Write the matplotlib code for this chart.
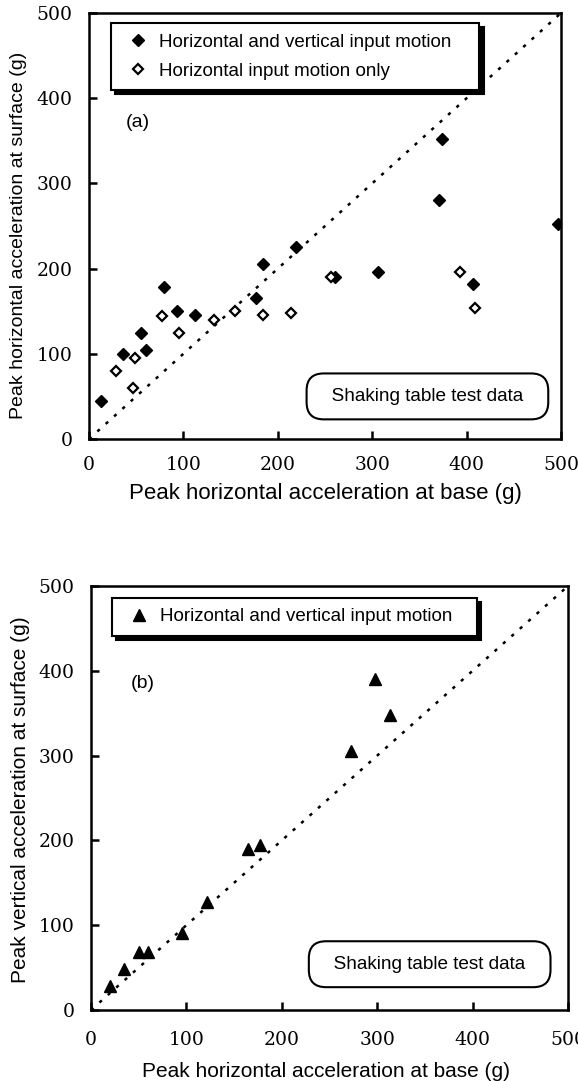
import numpy as np
import matplotlib
matplotlib.use("Agg")
import matplotlib.pyplot as plt

# (a) horizontal and vertical input motion (solid diamonds)
hv_base = [13, 36, 55, 60, 79, 93, 112, 177, 184, 219, 261, 306, 407, 374, 371, 497]
hv_surf = [45, 100, 124, 105, 178, 150, 145, 165, 205, 225, 190, 196, 182, 352, 281, 252]
# (a) horizontal input motion only (open diamonds)
h_base = [29, 47, 49, 77, 95, 132, 155, 184, 214, 256, 393, 409]
h_surf = [80, 60, 95, 144, 125, 140, 150, 145, 148, 190, 196, 154]
# (b) vertical response, horizontal and vertical input
v_base = [20, 35, 50, 60, 95, 122, 165, 177, 273, 298, 313]
v_surf = [28, 48, 68, 68, 91, 127, 190, 195, 305, 390, 348]

ticks = [0, 100, 200, 300, 400, 500]
tick_font = "DejaVu Serif"
label_font = "Liberation Sans"

fig = plt.figure(figsize=(5.78, 10.81), dpi=100)
W, H = 578, 1081


def px_axes(l, t, r, b):
    return fig.add_axes([l / W, 1 - b / H, (r - l) / W, (b - t) / H])


def style(ax, xpad):
    ax.set_xlim(0, 500)
    ax.set_ylim(0, 500)
    ax.set_xticks(ticks)
    ax.set_yticks(ticks)
    ax.tick_params(direction="in", length=6, width=1.8, top=False, right=False)
    ax.tick_params(axis="x", pad=xpad)
    ax.tick_params(axis="y", pad=12)
    for lab in ax.get_xticklabels() + ax.get_yticklabels():
        lab.set_fontfamily(tick_font)
        lab.set_fontsize(13.5)
    for sp in ax.spines.values():
        sp.set_linewidth(1.8)
    ax.plot([0, 500], [0, 500], color="black", lw=1.8, ls=(0, (1.3, 3.2)), zorder=1)


def shaking_box(ax, x, y):
    ax.text(x, y, "  Shaking table test data  ", transform=ax.transAxes, ha="center",
            va="center", fontsize=13.7, family=label_font,
            bbox=dict(boxstyle="round,pad=0.76,rounding_size=0.9", fc="white", ec="black",
                      lw=1.5))


def make_legend(ax, anchor):
    leg = ax.legend(loc="upper left", bbox_to_anchor=anchor, mode="expand", fancybox=False,
                    edgecolor="black", framealpha=1,
                    shadow={"color": "black", "alpha": 1, "ox": 3, "oy": -3},
                    prop={"family": label_font, "size": 13.5}, handletextpad=0.2,
                    handlelength=1.8, borderpad=0.55, labelspacing=0.65, borderaxespad=0)
    leg.get_frame().set_linewidth(1.5)
    return leg


# ---- panel (a)
ax1 = px_axes(89, 13, 561, 439)
style(ax1, 12)
ax1.plot(hv_base, hv_surf, "D", color="black", ms=6, ls="none",
         label="Horizontal and vertical input motion", zorder=3)
ax1.plot(h_base, h_surf, "D", mfc="white", mec="black", mew=1.6, ms=5.5, ls="none",
         label="Horizontal input motion only", zorder=3)
make_legend(ax1, (0.047, 0.0, 0.78, 0.976))
ax1.text(0.077, 0.744, "(a)", transform=ax1.transAxes, fontsize=14, family=label_font,
         ha="left", va="center")
shaking_box(ax1, 0.717, 0.10)
ax1.set_xlabel("Peak horizontal acceleration at base (g)", family=label_font, fontsize=16,
               va="center")
ax1.xaxis.set_label_coords(0.5, -0.127)
ax1.set_ylabel("Peak horizontal acceleration at surface (g)", family=label_font, fontsize=14,
               va="center")
ax1.yaxis.set_label_coords(-0.149, 0.477)

# ---- panel (b)
ax2 = px_axes(91, 586, 568, 1010)
style(ax2, 15)
ax2.plot(v_base, v_surf, "^", color="black", ms=8.5, ls="none",
         label="Horizontal and vertical input motion", zorder=3)
make_legend(ax2, (0.044, 0.0, 0.765, 0.972))
ax2.text(0.083, 0.771, "(b)", transform=ax2.transAxes, fontsize=14, family=label_font,
         ha="left", va="center")
shaking_box(ax2, 0.71, 0.108)
ax2.set_xlabel("Peak horizontal acceleration at base (g)", family=label_font, fontsize=15,
               va="center")
ax2.xaxis.set_label_coords(0.493, -0.146)
ax2.set_ylabel("Peak vertical acceleration at surface (g)", family=label_font, fontsize=15,
               va="center")
ax2.yaxis.set_label_coords(-0.148, 0.495)

fig.savefig("out.png", dpi=100)
